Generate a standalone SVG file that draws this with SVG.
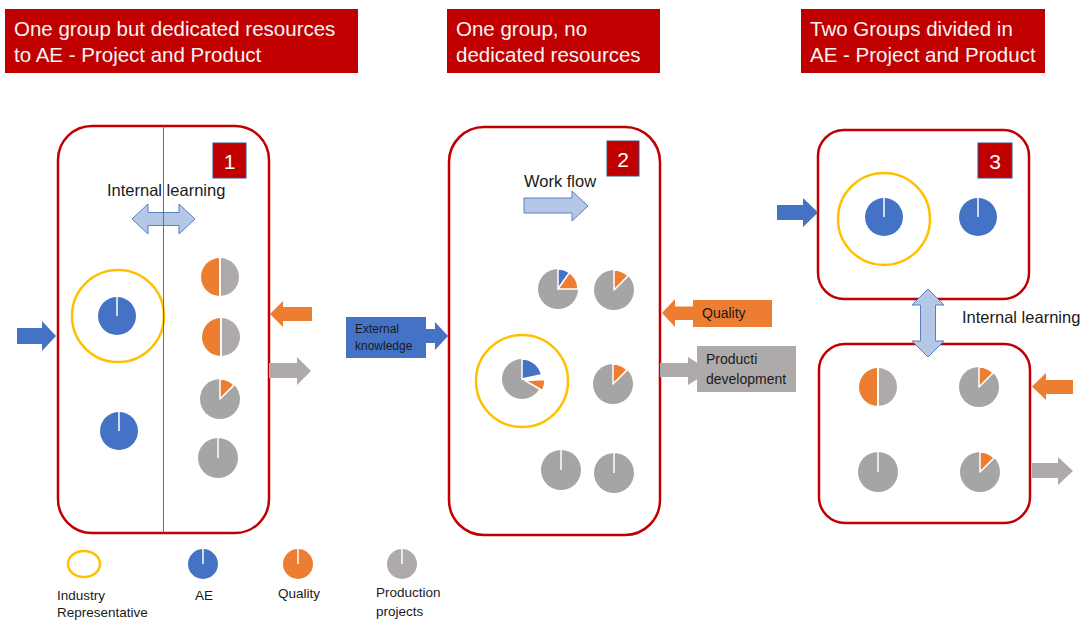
<svg xmlns="http://www.w3.org/2000/svg" xmlns:xlink="http://www.w3.org/1999/xlink" width="1082" height="621" viewBox="0 0 1082 621">
<style>
text{font-family:"Liberation Sans",Arial,sans-serif}
.title{fill:#C00000}
.ttext{fill:#F4F4F4;font-size:20.5px}
.box{fill:none;stroke:#C00000;stroke-width:2.5}
.badge{fill:#C00000;stroke:#2F528F;stroke-width:1}
.btext{fill:#fff;font-size:21px;text-anchor:middle}
.lbl{fill:#1a1a1a;font-size:16.5px}
.small{fill:#1a1a1a;font-size:12px}
.mid{fill:#1a1a1a;font-size:14px}
.leg{fill:#1a1a1a;font-size:13.5px}
.ring{fill:none;stroke:#FFC000;stroke-width:2.5}
.blue{fill:#4472C4}
.orange{fill:#ED7D31}
.gray{fill:#A5A5A5}
.lgray{fill:#AEAAAA}
.light{fill:#B4C7E7;stroke:#5B7FC0;stroke-width:1}
.sep{stroke:#fff;stroke-width:1.5}
.wedge{stroke:#fff;stroke-width:1.5;stroke-linejoin:round}
</style>
<defs>
<g id="pieBlue"><circle r="19" class="blue"/><line x1="0" y1="0" x2="0" y2="-19" class="sep"/></g>
<g id="pieHalf"><path d="M0,-19 A19,19 0 0,0 0,19 Z" class="orange"/><path d="M0,-19 A19,19 0 0,1 0,19 Z" class="lgray"/><line x1="0" y1="-19" x2="0" y2="19" stroke="#fff" stroke-width="2"/></g>
<g id="pieSlice"><circle r="20" class="gray"/><path d="M0,0 L0,-20 A20,20 0 0,1 14.14,-14.14 Z" class="orange wedge"/></g>
<g id="pieGray"><circle r="20" class="gray"/><line x1="0" y1="0" x2="0" y2="-20" class="sep"/></g>
<g id="pieMix"><circle r="20" class="gray"/><path d="M0,0 L0,-20 A20,20 0 0,1 11.47,-16.38 Z" class="blue wedge"/><path d="M0,0 L11.47,-16.38 A20,20 0 0,1 20,0 Z" class="orange wedge"/></g>
<g id="pieIR"><path d="M0,0 L17.32,10 A20,20 0 1,1 0,-20 Z" class="gray"/><path d="M0,0 L0,-20 A20,20 0 0,1 19.56,-4.16 Z" class="blue wedge"/><path d="M3,1.5 L22.97,0.45 A20,20 0 0,1 20.32,11.5 Z" class="orange wedge"/></g>
</defs>

<g id="title1"><rect x="5" y="9" width="353" height="64" class="title"/><text x="14" y="36" class="ttext">One group but dedicated resources</text><text x="14" y="62" class="ttext">to AE - Project and Product</text></g>
<g id="title2"><rect x="447" y="9" width="213" height="64" class="title"/><text x="456" y="36" class="ttext">One group, no</text><text x="456" y="62" class="ttext">dedicated resources</text></g>
<g id="title3"><rect x="801" y="9" width="244" height="64" class="title"/><text x="810" y="36" class="ttext">Two Groups divided in</text><text x="810" y="62" class="ttext">AE - Project and Product</text></g>

<g id="box1">
<rect x="58" y="126" width="211" height="407" rx="34" class="box"/>
<rect x="213" y="143" width="33" height="35" class="badge"/><text x="229.5" y="169" class="btext">1</text>
<text x="107" y="196" class="lbl">Internal learning</text>
<circle cx="118" cy="316" r="46" class="ring"/>
<use xlink:href="#pieBlue" x="117" y="316"/>
<use xlink:href="#pieBlue" x="119" y="431"/>
<use xlink:href="#pieHalf" x="220" y="277"/>
<use xlink:href="#pieHalf" x="221" y="337"/>
<use xlink:href="#pieSlice" x="220" y="399"/>
<use xlink:href="#pieGray" x="218" y="458"/>
</g>

<g id="box2">
<rect x="449" y="127" width="211" height="408" rx="35" class="box"/>
<rect x="607" y="141" width="32" height="35" class="badge"/><text x="623" y="167" class="btext">2</text>
<text x="524" y="187" class="lbl">Work flow</text>
<use xlink:href="#pieMix" x="558" y="289"/>
<use xlink:href="#pieSlice" x="614" y="290"/>
<circle cx="522" cy="381" r="46" class="ring"/>
<use xlink:href="#pieIR" x="522" y="379"/>
<use xlink:href="#pieSlice" x="613" y="384"/>
<use xlink:href="#pieGray" x="561" y="470"/>
<use xlink:href="#pieGray" x="614" y="473"/>
</g>

<g id="box3top">
<rect x="818" y="130" width="211" height="169" rx="26" class="box"/>
<rect x="978" y="143" width="34" height="35" class="badge"/><text x="995" y="169" class="btext">3</text>
<circle cx="884" cy="219" r="46" class="ring"/>
<use xlink:href="#pieBlue" x="884" y="217"/>
<use xlink:href="#pieBlue" x="978" y="217"/>
</g>

<g id="box3bottom">
<rect x="819" y="344" width="211" height="179" rx="26" class="box"/>
<use xlink:href="#pieHalf" x="878" y="387"/>
<use xlink:href="#pieSlice" x="979" y="387"/>
<use xlink:href="#pieGray" x="878" y="472"/>
<use xlink:href="#pieSlice" x="980" y="472"/>
</g>

<g id="connectors">
<polygon points="132,219 148,204 148,212.5 179,212.5 179,204 195,219 179,234 179,225.5 148,225.5 148,234" class="light"/>
<polygon points="17,328 42,328 42,321 56,336 42,351 42,344 17,344" class="blue"/>
<polygon points="270,314 283,301 283,307 312,307 312,321 283,321 283,327" class="orange"/>
<polygon points="269,363 297,363 297,357 311,371 297,385 297,378 269,378" class="lgray"/>
<polygon points="524,198 572,198 572,191 588,206 572,221 572,213 524,213" class="light"/>
<polygon points="777,205 803,205 803,198 818,212.5 803,227 803,220 777,220" class="blue"/>
<polygon points="928,289 944,305 935.5,305 935.5,341 944,341 928,357 912,341 920.5,341 920.5,305 912,305" class="light"/>
<polygon points="1032,386.5 1046,373 1046,380 1073,380 1073,394 1046,394 1046,400" class="orange"/>
<polygon points="1032,463 1058,463 1058,457 1073,471 1058,485 1058,478 1032,478" class="lgray"/>
<line x1="163.5" y1="126" x2="163.5" y2="533" stroke="#4472C4" stroke-width="1"/>
</g>

<g id="external">
<path d="M346,317 H426 V329 H435 V322 L448,336 L435,350 V343 H426 V358 H346 Z" class="blue"/>
<text x="355" y="333" class="small">External</text><text x="355" y="350" class="small">knowledge</text>
</g>
<g id="quality">
<path d="M662,313 L675,299 V306.5 H693 V300 H772 V327 H693 V320 H675 V327 Z" class="orange"/>
<text x="702" y="318" class="mid">Quality</text>
</g>
<g id="product">
<path d="M660,363 H688 V357 L710,371 L688,385 V377 H660 Z" class="lgray"/>
<rect x="697" y="346" width="99" height="46" class="lgray"/>
<text x="706" y="364" class="mid">Producti</text><text x="706" y="384" class="mid">development</text>
</g>
<g id="label3"><text x="962" y="323" class="lbl">Internal learning</text></g>

<g id="legend">
<ellipse cx="84" cy="564" rx="16" ry="13" class="ring"/>
<g transform="translate(203,564)"><circle r="15" class="blue"/><line x1="0" y1="0" x2="0" y2="-15" class="sep"/></g>
<g transform="translate(298,564)"><circle r="15" class="orange"/><line x1="0" y1="0" x2="0" y2="-15" class="sep"/></g>
<g transform="translate(402,564)"><circle r="15" class="lgray"/><line x1="0" y1="0" x2="0" y2="-15" class="sep"/></g>
<text x="57" y="600" class="leg">Industry</text><text x="57" y="617" class="leg">Representative</text>
<text x="195" y="600" class="leg">AE</text>
<text x="278" y="598" class="leg">Quality</text>
<text x="376" y="597" class="leg">Production</text><text x="376" y="616" class="leg">projects</text>
</g>
</svg>
